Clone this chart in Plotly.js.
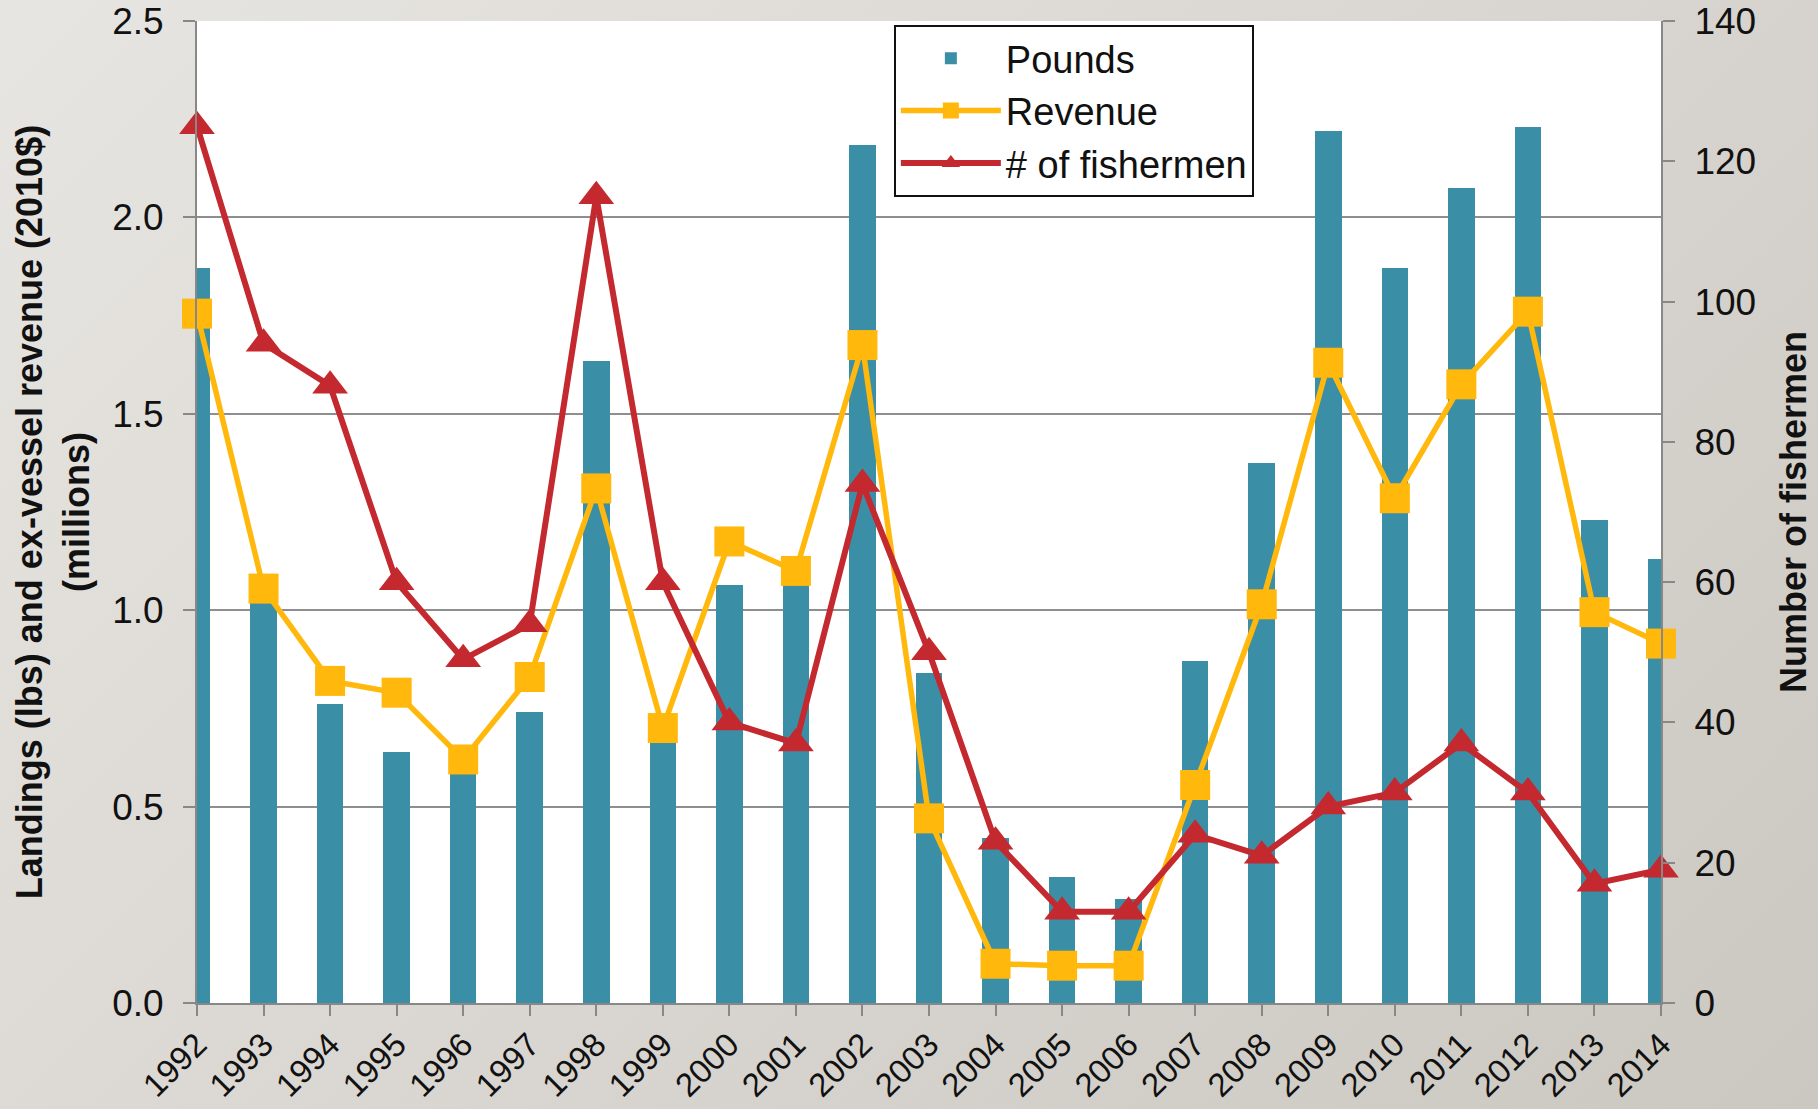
<!DOCTYPE html>
<html>
<head>
<meta charset="utf-8">
<script src="https://cdn.plot.ly/plotly-3.0.1.min.js"></script>
<style>
  html, body { margin: 0; padding: 0; }
  body {
    width: 1818px; height: 1109px; overflow: hidden;
    background: linear-gradient(135deg, #e7e5e1 0%, #dad7d2 50%, #cbc8c2 100%);
  }
  #chart { width: 1818px; height: 1109px; }
</style>
</head>
<body>
<div id="chart"></div>
<script>
const years = [1992,1993,1994,1995,1996,1997,1998,1999,2000,2001,2002,2003,2004,2005,2006,2007,2008,2009,2010,2011,2012,2013,2014];
const yearLabels = years.map(String);

// Landings (millions of lbs) - left axis
const pounds = [1.87,1.04,0.76,0.64,0.60,0.74,1.635,0.68,1.065,1.08,2.185,0.84,0.42,0.32,0.265,0.87,1.375,2.22,1.87,2.075,2.23,1.23,1.13];

// Ex-vessel revenue (millions 2010$) - left axis
const revenue = [1.755,1.055,0.82,0.79,0.62,0.83,1.31,0.70,1.175,1.10,1.675,0.47,0.10,0.095,0.095,0.555,1.015,1.63,1.285,1.575,1.76,0.995,0.915];

// Number of fishermen - right axis
const fishermen = [125,94,88,60,49,54,115,60,40,37,74,50,23,13,13,24,21,28,30,37,30,17,19];

const FONT = "Liberation Sans, Arial, sans-serif";

const traces = [
  {
    type: 'bar', name: 'Pounds', x: years, y: pounds, yaxis: 'y',
    width: 0.4,
    marker: { color: '#3a8fa6', line: { width: 0 } }
  },
  {
    type: 'scatter', mode: 'lines+markers', name: 'Revenue', x: years, y: revenue, yaxis: 'y',
    cliponaxis: false,
    line: { color: '#ffb80b', width: 5.5 },
    marker: { symbol: 'square', size: 30, color: '#ffb80b' }
  },
  {
    type: 'scatter', mode: 'lines+markers', name: '# of fishermen', x: years, y: fishermen, yaxis: 'y2',
    cliponaxis: false,
    line: { color: '#c3292e', width: 6 },
    marker: { symbol: 'triangle-up', size: 31, color: '#c3292e' }
  }
];

const layout = {
  width: 1818, height: 1109,
  paper_bgcolor: 'rgba(0,0,0,0)',
  plot_bgcolor: '#ffffff',
  margin: { l: 197, r: 157, t: 21, b: 106, pad: 0 },
  font: { family: FONT, color: '#111111', size: 37 },
  showlegend: true,
  bargap: 0,
  xaxis: {
    type: 'linear',
    range: [1992, 2014],
    tickmode: 'array', tickvals: years, ticktext: yearLabels,
    tickangle: -45,
    ticks: 'outside', ticklen: 11, tickwidth: 2, tickcolor: '#888888',
    showline: true, linecolor: '#888888', linewidth: 2,
    showgrid: false, zeroline: false,
    ticklabelstandoff: -4,
    tickfont: { family: FONT, size: 33, color: '#111111' },
    automargin: false, fixedrange: true
  },
  yaxis: {
    range: [0, 2.5], dtick: 0.5, tick0: 0, tickformat: '.1f',
    ticks: 'outside', ticklen: 12, tickwidth: 2, tickcolor: '#888888',
    showline: true, linecolor: '#888888', linewidth: 2,
    showgrid: true, gridcolor: '#8e8e8e', gridwidth: 2,
    zeroline: false,
    ticklabelstandoff: 12,
    tickfont: { family: FONT, size: 37, color: '#111111' },
    title: {
      text: '<b>Landings (lbs) and ex-vessel revenue (2010$)</b><br><b>(millions)</b>',
      font: { family: FONT, size: 36, color: '#111111' },
      standoff: 12
    },
    automargin: false, fixedrange: true
  },
  yaxis2: {
    overlaying: 'y', side: 'right',
    range: [0, 140], dtick: 20, tick0: 0,
    ticks: 'outside', ticklen: 12, tickwidth: 2, tickcolor: '#888888',
    showline: true, linecolor: '#888888', linewidth: 2,
    showgrid: false, zeroline: false,
    ticklabelstandoff: 12,
    tickfont: { family: FONT, size: 37, color: '#111111' },
    title: {
      text: '<b>Number of fishermen</b>',
      font: { family: FONT, size: 36, color: '#111111' },
      standoff: 26
    },
    automargin: false, fixedrange: true
  },
  legend: {
    x: 0.476, xanchor: 'left', y: 0.996, yanchor: 'top',
    bgcolor: '#ffffff', bordercolor: '#111111', borderwidth: 2,
    font: { family: FONT, size: 38, color: '#111111' },
    itemwidth: 100, traceorder: 'normal'
  }
};

Plotly.newPlot('chart', traces, layout, { displayModeBar: false, staticPlot: true });
</script>
</body>
</html>
